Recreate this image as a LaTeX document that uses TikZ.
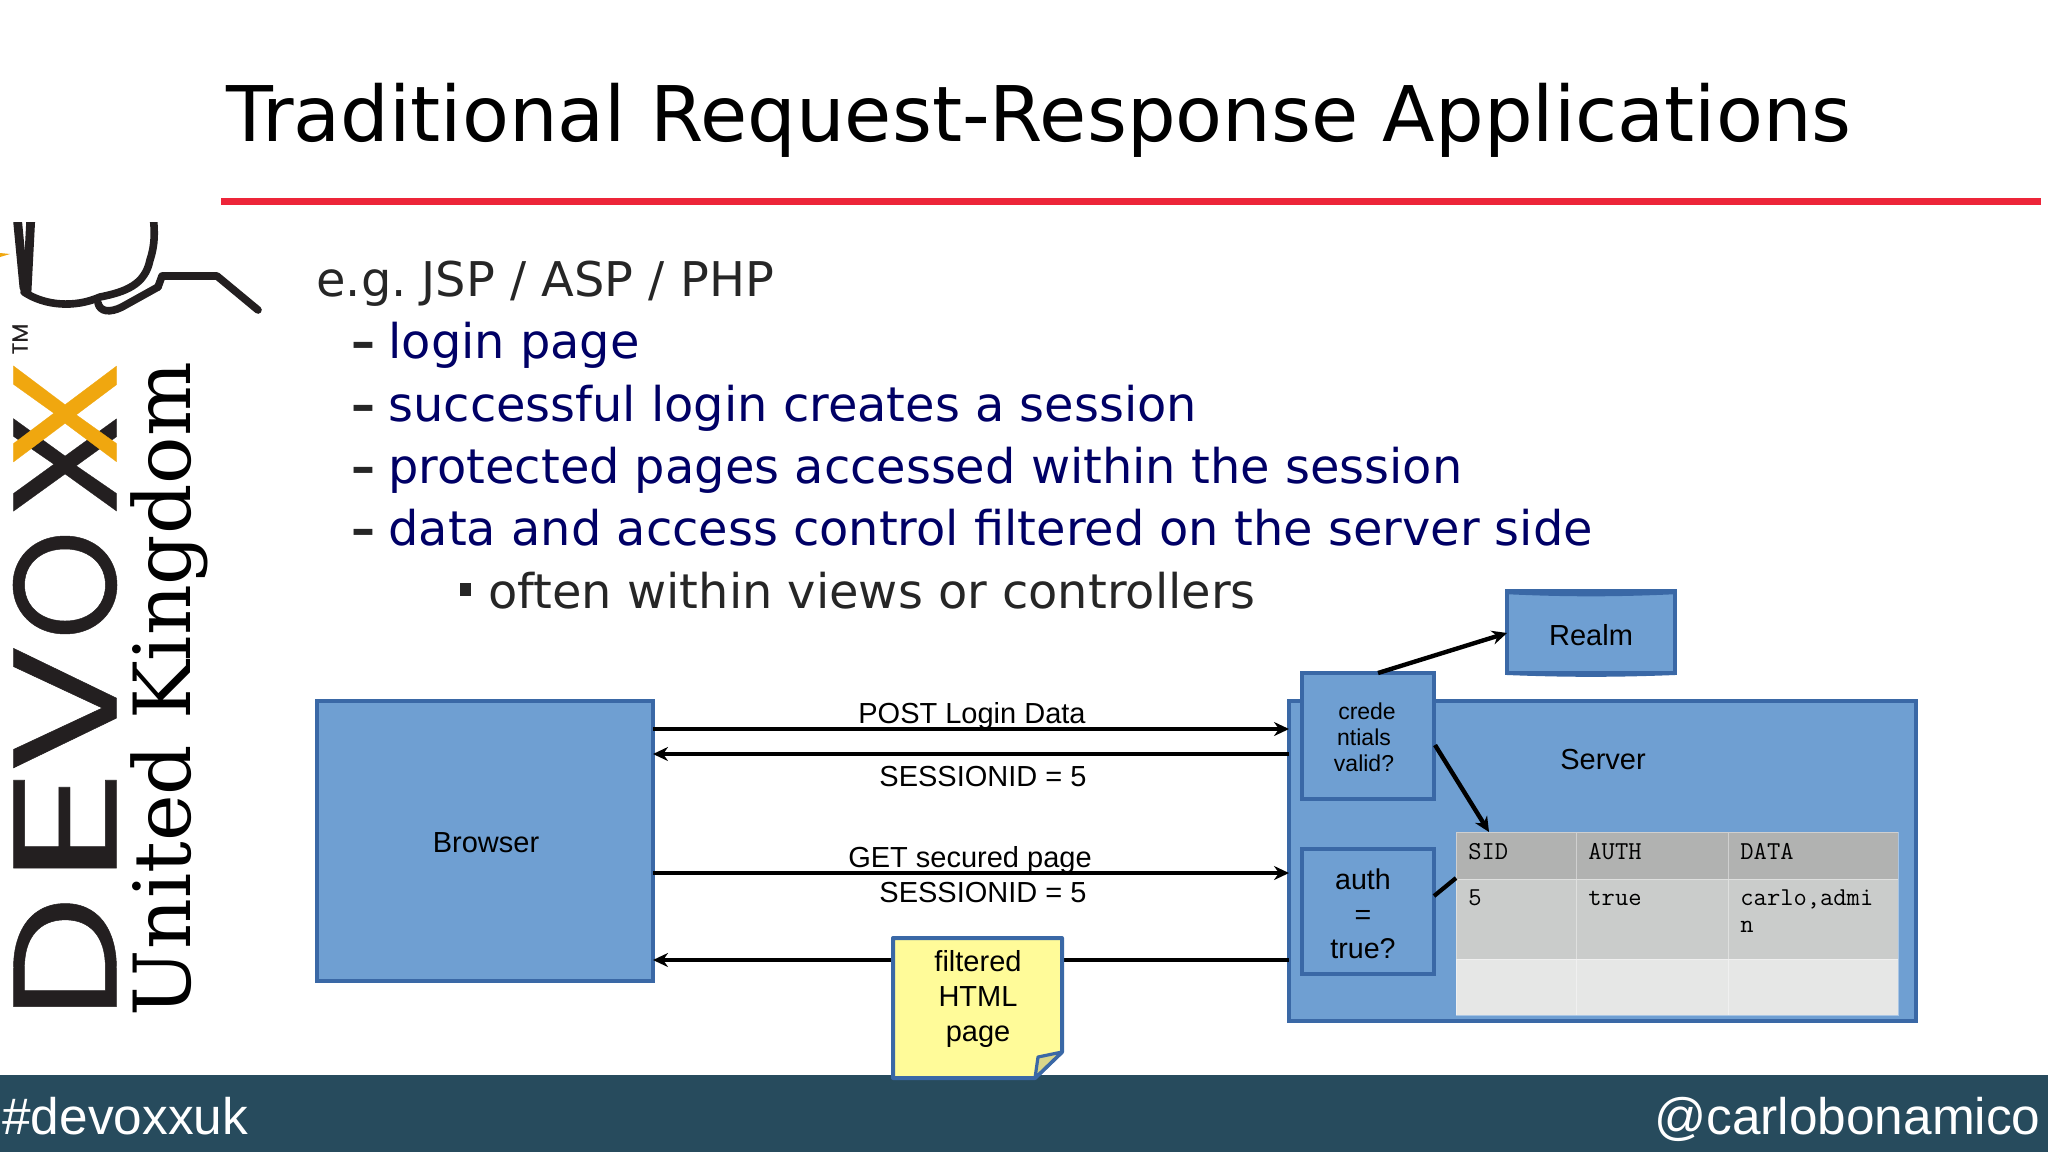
\documentclass[tikz,border=0pt]{standalone}
\usepackage{fontspec}
\usepackage{graphicx}
\setmainfont{Liberation Sans}
\setmonofont{Latin Modern Mono}
\newfontfamily\djv{DejaVu Sans}
\newfontfamily\djs{DejaVu Serif}
\newfontfamily\pop[FakeBold=0.3]{Poppins}
\newfontfamily\popx[FakeBold=0.15]{Poppins}
\usetikzlibrary{arrows.meta}
\definecolor{bluefill}{HTML}{6F9FD2}
\definecolor{blueline}{HTML}{3A68A6}
\definecolor{navy}{HTML}{000066}
\definecolor{bodyink}{HTML}{262626}
\definecolor{barcol}{HTML}{274B5D}
\definecolor{redline}{HTML}{ED2539}
\definecolor{logoink}{HTML}{231F20}
\definecolor{logoor}{HTML}{F0A70F}
\definecolor{thead}{HTML}{B1B2B1}
\definecolor{trow}{HTML}{CACCCB}
\definecolor{tlast}{HTML}{E6E7E6}
\definecolor{notefill}{HTML}{FFFB99}
\definecolor{foldfill}{HTML}{D9D68A}
\tikzset{
 x=0.5pt,y=-0.5pt,
 box/.style={draw=blueline,fill=bluefill,line width=2pt,inner sep=0pt,outer sep=0pt,align=center},
 arr/.style={draw=black,line width=1.9pt,-{Stealth[length=7.5pt,width=7pt]}},
 plainln/.style={draw=black,line width=2.1pt},
 lab/.style={inner sep=0pt,align=center,font=\fontsize{14.5}{17}\selectfont,text=black},
 body/.style={inner sep=0pt,anchor=base west,font=\frenchspacing\djv\fontsize{23.93}{28}\selectfont},
 dashb/.style={inner sep=0pt,anchor=base west,font=\djv\bfseries\fontsize{23.93}{28}\selectfont,text=bodyink},
 cell/.style={inner sep=0pt,anchor=base west,font=\ttfamily\fontsize{12.9}{15}\selectfont,text=black},
 logoletter/.style={inner sep=0pt,outer sep=0pt,rotate=90,text=logoink},
 glass/.style={draw=logoink,line width=3.8pt,line cap=round,line join=round},
 foot/.style={inner sep=0pt,text=white,font=\fontsize{25.7}{30}\selectfont}
}
\begin{document}
\begin{tikzpicture}
\useasboundingbox (0,0) rectangle (2048,1152);
\fill[white] (0,0) rectangle (2048,1152);
% title
\node[inner sep=0pt,anchor=base west,font=\djv\fontsize{38.37}{44}\selectfont,text=black] (title) at (226,141) {Traditional Request-Response Applications};
\fill[redline] (221,198) rectangle (2041,205);
% bullets
\node[body,text=bodyink] (b0) at (316,296) {e.g. JSP / ASP / PHP};
\node[dashb] (d1) at (351,358) {–};
\node[body,text=navy] (b1) at (388,358) {login page};
\node[dashb] (d2) at (351,421) {–};
\node[body,text=navy] (b2) at (388,421) {successful login creates a session};
\node[dashb] (d3) at (351,483) {–};
\node[body,text=navy] (b3) at (388,483) {protected pages accessed within the session};
\node[dashb] (d4) at (351,545) {–};
\node[body,text=navy] (b4) at (388,545) {data and access control filtered on the server side};
\fill[bodyink] (460,583) rectangle (471,596);
\node[body,text=bodyink] (b5) at (488,608) {often within views or controllers};
% logo
\node[logoletter] (lD) at (65,958) {\resizebox{62pt}{51.5pt}{\pop D}};
\node[logoletter] (lE) at (65,826) {\resizebox{60pt}{51.5pt}{\pop E}};
\node[logoletter] (lV) at (65,708) {\resizebox{64pt}{51.5pt}{\pop V}};
\node[logoletter] (lO) at (65,585) {\resizebox{55pt}{51.5pt}{\pop O}};
\node[logoletter] (lX1) at (65,465) {\resizebox{54pt}{51.5pt}{\popx X}};
\node[logoletter,text=logoor] (lX2) at (65,414) {\resizebox{56pt}{51.5pt}{\popx X}};
\node[logoletter,font=\pop\fontsize{11}{12}\selectfont] (ltm) at (20,339) {TM};
\node[inner sep=0pt,outer sep=0pt,rotate=90,anchor=base west,text=black] (uk) at (190,1016)
  {\resizebox{327pt}{!}{\djs\fontsize{30}{34}\selectfont United Kingdom}};
\fill[logoor] (0,253) -- (10,254) -- (0,257) -- cycle;
\begin{scope}
\clip (0,222) rectangle (300,330);
\draw[glass,line width=4.4pt] (17,215) -- (24,288);
\draw[glass,line width=4.4pt] (31,215) -- (27,292);
\draw[glass] (24,292) .. controls (45,306) and (75,308) .. (100,297)
  .. controls (125,292) and (145,285) .. (150,260) .. controls (155,245) and (155,232) .. (153,215);
\draw[glass] (158,287) -- (122,307) .. controls (110,313) and (100,312) .. (98,303);
\draw[glass] (158,287) -- (162,276) -- (217,276) -- (258,310);
\end{scope}
% footer
\fill[barcol] (0,1075) rectangle (2048,1152);
\node[foot,anchor=base west] (tag) at (2,1134) {\#devoxxuk};
\node[foot,anchor=base east] (user) at (2041,1134) {@carlobonamico};
% boxes
\node[box,minimum width=168pt,minimum height=140pt] (browser) at (485,841) {};
\node[lab] (browserlab) at (486,843) {Browser};
\node[box,minimum width=313.5pt,minimum height=160pt] (server) at (1602.5,861) {};
\node[lab] (serverlab) at (1603,760) {Server};
\node[box,minimum width=84pt,minimum height=41pt] (realm) at (1591,632) {};
\node[lab] (realmlab) at (1591,635) {Realm};
\fill[blueline] (realm.north west) -- (realm.north east) -- ([yshift=-1.6pt]realm.north east) .. controls ([xshift=-30pt,yshift=-3pt]realm.north east) and ([xshift=30pt,yshift=-3pt]realm.north west) .. ([yshift=-1.6pt]realm.north west) -- cycle;
\draw[blueline,line width=2pt] (realm.south west) .. controls ([xshift=30pt,yshift=-1.2pt]realm.south west) and ([xshift=-30pt,yshift=-1.2pt]realm.south east) .. (realm.south east);
\node[box,minimum width=66pt,minimum height=63pt] (cred) at (1368,736) {};
\node[lab,font=\fontsize{11.5}{13}\selectfont] (credlab) at (1364,737) {\hspace*{3pt}crede\\ntials\\valid?};
\node[box,minimum width=66pt,minimum height=62.5pt] (auth) at (1368,911.5) {};
\node[lab,font=\fontsize{14.3}{17.2}\selectfont] (authlab) at (1363,914) {auth\\=\\true?};
% table
\fill[thead] (1456,832) rectangle (1898,879);
\fill[trow] (1456,879) rectangle (1898,959);
\fill[tlast] (1456,959) rectangle (1898,1015);
\draw[white,opacity=.4,line width=.5pt] (1576,832) -- (1576,1015) (1728,832) -- (1728,1015) (1456,879) -- (1898,879) (1456,959) -- (1898,959) (1456,832) rectangle (1898,1015);
\coordinate (tabletop) at (1489,832);
\coordinate (tableleft) at (1456,878);
\node[cell] (h1) at (1468,859) {SID};
\node[cell] (h2) at (1588,859) {AUTH};
\node[cell] (h3) at (1740,859) {DATA};
\node[cell] (c1) at (1468,905) {5};
\node[cell] (c2) at (1588,905) {true};
\node[cell] (c3) at (1740,905) {carlo,admi};
\node[cell] (c4) at (1740,932) {n};
% connectors
\coordinate (ya) at (0,729);
\coordinate (yb) at (0,754);
\coordinate (yc) at (0,873);
\coordinate (yd) at (0,960);
\draw[arr] (browser.east|-ya) -- (server.west|-ya);
\draw[arr] (server.west|-yb) -- (browser.east|-yb);
\draw[arr] (browser.east|-yc) -- (server.west|-yc);
\draw[arr] (server.west|-yd) -- (browser.east|-yd);
\coordinate (credtop) at (1378,673);
\coordinate (credside) at (1435,745);
\coordinate (authside) at (1434,896);
\coordinate (realmin) at (1507,633);
\draw[arr,line width=2.2pt] (credtop) -- (realmin);
\draw[arr,line width=2.2pt] (credside) -- (tabletop);
\draw[plainln] (authside) -- (tableleft);
% labels
\node[lab] (l1) at (972,716) {POST Login Data};
\node[lab] (l2) at (983,777) {SESSIONID = 5};
\node[lab] (l3) at (970,860) {GET secured page};
\node[lab] (l4) at (983,892) {SESSIONID = 5};
% note
\draw[draw=blueline,fill=notefill,line width=2pt,line join=round] (893,938) -- (1062,938) -- (1062,1052) -- (1035,1078) -- (893,1078) -- cycle;
\draw[draw=blueline,fill=foldfill,line width=1.6pt,line join=round] (1062,1052) -- (1038,1057) -- (1035,1078) -- cycle;
\node[inner sep=0pt,align=center,font=\fontsize{14.5}{17.3}\selectfont] (notetext) at (978,999) {filtered\\HTML\\page};
\end{tikzpicture}
\end{document}
